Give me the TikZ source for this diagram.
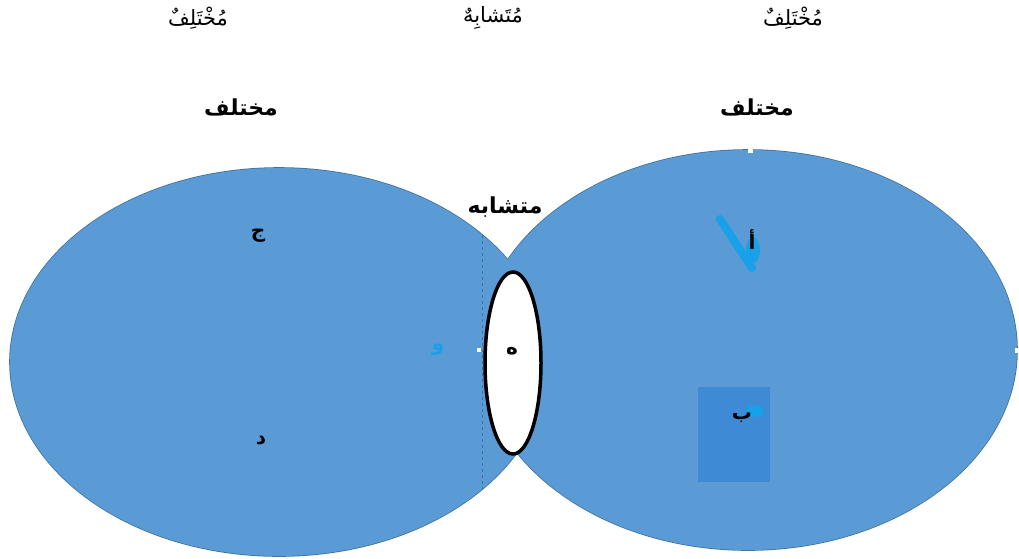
\documentclass[tikz,border=0pt]{standalone}
\usepackage{fontspec}
\usepackage{xcolor}
\usepackage{tikz}
\newfontfamily\arabicfont[Script=Arabic]{DejaVu Sans}
\TeXXeTstate=1
\definecolor{myblue}{RGB}{91,155,213}
\definecolor{mydeep}{RGB}{62,138,212}
\definecolor{mycyan}{RGB}{24,160,232}
\definecolor{myedge}{RGB}{65,113,156}
\tikzset{
  toplabel/.style={font=\arabicfont\fontsize{21}{24}\selectfont, inner sep=0pt},
  headlabel/.style={font=\arabicfont\bfseries\fontsize{22}{25}\selectfont, inner sep=0pt},
  letter/.style={font=\arabicfont\bfseries\fontsize{20}{23}\selectfont, inner sep=0pt},
  handle/.style={rectangle, fill=white, minimum size=5pt, inner sep=0pt},
  edgeline/.style={draw=myedge, line width=1.6pt}
}

\begin{document}
\begin{tikzpicture}[x=1pt, y=-1pt]
  \useasboundingbox (0,0) rectangle (1019,558);
  % Two sets: outline first, then the fills over the inner halves
  \draw[edgeline] (279,362) ellipse [x radius=269pt, y radius=194pt];
  \draw[edgeline] (748,350) ellipse [x radius=269pt, y radius=200pt];
  \fill[myblue] (279,362) ellipse [x radius=269pt, y radius=194pt];
  \fill[myblue] (748,350) ellipse [x radius=269pt, y radius=200pt];
  % Dashed guide through the left set
  \draw[dashed, myedge, line width=0.6pt] (482,235) -- (482,489);
  % Shared part
  \draw[line width=3.5pt, fill=white] (513,363) ellipse [x radius=28pt, y radius=91pt];
  % Box behind the letter
  \fill[mydeep] (698,387) rectangle (770,482);
  % Hand marks
  \draw[mycyan, line width=8pt, line cap=round] (720,219) -- (752,268);
  \fill[mycyan] (753,250) ellipse [x radius=7pt, y radius=13pt];
  \fill[mycyan] (755,411) ellipse [x radius=9pt, y radius=6pt];
  % Handles
  \node[handle] (hTop) at (750,150) {};
  \node[handle] (hRight) at (1017,350) {};
  \node[handle, minimum size=4pt] (hLeft) at (479,350) {};
  % Top labels
  \node[toplabel] (topL) at (198,18) {\beginR مُخْتَلِفٌ\endR};
  \node[toplabel] (topM) at (493,18) {\beginR مُتَشابِهٌ\endR};
  \node[toplabel] (topR) at (793,18) {\beginR مُخْتَلِفٌ\endR};
  % Set labels
  \node[headlabel] (headL) at (241,107) {\beginR مختلف\endR};
  \node[headlabel] (headR) at (757,107) {\beginR مختلف\endR};
  \node[headlabel] (headM) at (505,207) {\beginR متشابه\endR};
  % Letters
  \node[letter] (jim) at (258,236) {\beginR ج\endR};
  \node[letter] (dal) at (261,441) {\beginR د\endR};
  \node[letter] (alif) at (752,240) {\beginR أ\endR};
  \node[letter] (ba) at (742,418) {\beginR ب\endR};
  \node[letter] (ha) at (512,351) {\beginR ه\endR};
  \node[letter, text=mycyan] (waw) at (438,350) {\beginR و\endR};
\end{tikzpicture}
\end{document}
